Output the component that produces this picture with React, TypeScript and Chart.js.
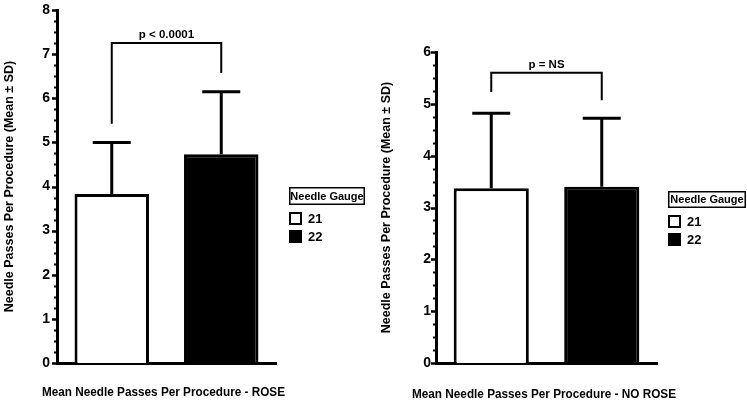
import React, { useEffect, useRef } from 'react';
import { Chart, registerables } from 'chart.js';

Chart.register(...registerables);

// ---- data ----
const gauges = ['21', '22'];
const barColors = ['#ffffff', '#000000'];
const roseMeans = [3.83, 4.73];
const roseSD = [1.17, 1.42];
const noRoseMeans = [3.37, 3.4];
const noRoseSD = [1.45, 1.32];
const roseYMax = 8;
const noRoseYMax = 6;
// bracket: [left leg bottom, bar height, right leg bottom]
const roseBracket = [5.42, 7.25, 6.57];
const noRoseBracket = [5.23, 5.6, 5.07];
const roseP = 'p < 0.0001';
const noRoseP = 'p = NS';
const yTitle = 'Needle Passes Per Procedure (Mean ± SD)';
const roseXTitle = 'Mean Needle Passes Per Procedure - ROSE';
const noRoseXTitle = 'Mean Needle Passes Per Procedure - NO ROSE';
const legendTitle = 'Needle Gauge';
const minorStep = 0.25;

const FONT = '"Liberation Sans", Arial, Helvetica, sans-serif';

type PanelProps = {
  left: number;
  width: number;
  means: number[];
  sds: number[];
  yMax: number;
  bracket: number[];
  pText: string;
  xTitle: string;
  yAxisWidth: number;
  yTitlePad: number;
  tickPad: number;
  padTop: number;
  padRight: number;
  xTitleY: number;
  xTitleDx: number;
  xTitleMaxW: number;
  legendDx: number;
  legendTop: number;
  legendW: number;
  legendH: number;
};

function makePlugin(p: PanelProps) {
  return {
    id: 'annotate',
    afterDraw(chart: any) {
      const ctx = chart.ctx as CanvasRenderingContext2D;
      const y = chart.scales.y;
      const area = chart.chartArea;
      const meta = chart.getDatasetMeta(0);
      ctx.save();
      ctx.strokeStyle = '#000';
      ctx.fillStyle = '#000';
      // ticks (major + minor)
      const n = Math.round(p.yMax / minorStep);
      for (let k = 0; k <= n; k++) {
        const v = k * minorStep;
        const py = Math.round(y.getPixelForValue(v)) + 0.5;
        const major = Math.abs(v - Math.round(v)) < 1e-6;
        ctx.lineWidth = major ? 2.5 : 2;
        ctx.beginPath();
        ctx.moveTo(area.left - (major ? 5 : 3), py);
        ctx.lineTo(area.left, py);
        ctx.stroke();
      }
      // error bars (upper SD only)
      ctx.lineWidth = 3;
      p.means.forEach((m, i) => {
        const bar = meta.data[i];
        const x = bar.x;
        const yTop = y.getPixelForValue(m + p.sds[i]);
        const yBase = y.getPixelForValue(m);
        ctx.beginPath();
        ctx.moveTo(x, yBase);
        ctx.lineTo(x, yTop);
        ctx.moveTo(x - 19, yTop);
        ctx.lineTo(x + 19, yTop);
        ctx.stroke();
      });
      // significance bracket
      const x0 = meta.data[0].x;
      const x1 = meta.data[1].x;
      const yb = y.getPixelForValue(p.bracket[1]);
      ctx.lineWidth = 2;
      ctx.beginPath();
      ctx.moveTo(x0, y.getPixelForValue(p.bracket[0]));
      ctx.lineTo(x0, yb);
      ctx.lineTo(x1, yb);
      ctx.lineTo(x1, y.getPixelForValue(p.bracket[2]));
      ctx.stroke();
      ctx.font = `bold 11.5px ${FONT}`;
      ctx.textAlign = 'center';
      ctx.textBaseline = 'alphabetic';
      ctx.fillText(p.pText, (x0 + x1) / 2, yb - 5);
      // x axis title (slightly condensed, like the original)
      ctx.font = `bold 13.5px ${FONT}`;
      ctx.textBaseline = 'middle';
      ctx.fillText(p.xTitle, (area.left + area.right) / 2 + p.xTitleDx, p.xTitleY, p.xTitleMaxW);
      // legend
      const lx = area.right + p.legendDx;
      const ly = p.legendTop;
      ctx.lineWidth = 1.5;
      ctx.strokeRect(lx + 0.75, ly + 0.75, p.legendW - 1.5, p.legendH - 1.5);
      ctx.font = `bold 11px ${FONT}`;
      ctx.textBaseline = 'middle';
      ctx.fillText(legendTitle, lx + p.legendW / 2, ly + p.legendH / 2 + 0.5);
      ctx.textAlign = 'left';
      ctx.font = `bold 13px ${FONT}`;
      gauges.forEach((g, i) => {
        const sy = ly + p.legendH + 7 + i * 18;
        ctx.fillStyle = barColors[i];
        ctx.fillRect(lx, sy, 13, 13);
        ctx.lineWidth = 2;
        ctx.strokeStyle = '#000';
        ctx.strokeRect(lx + 1, sy + 1, 11, 11);
        ctx.fillStyle = '#000';
        ctx.fillText(g, lx + 19, sy + 7);
      });
      ctx.restore();
    },
  };
}

function Panel(p: PanelProps) {
  const ref = useRef<HTMLCanvasElement>(null);
  useEffect(() => {
    const chart = new Chart(ref.current as HTMLCanvasElement, {
      type: 'bar',
      data: {
        labels: gauges,
        datasets: [
          {
            label: 'Mean',
            data: p.means,
            backgroundColor: barColors,
            borderColor: '#000',
            borderWidth: 3,
            borderSkipped: 'bottom',
            barPercentage: 0.68,
            categoryPercentage: 1,
          },
        ],
      },
      options: {
        animation: false,
        responsive: false,
        devicePixelRatio: 1,
        layout: { padding: { left: 0, top: p.padTop, right: p.padRight, bottom: 0 } },
        plugins: { legend: { display: false }, tooltip: { enabled: false } },
        scales: {
          x: {
            type: 'category',
            grid: { display: false, tickLength: 0 },
            ticks: { display: false },
            border: { display: true, color: '#000', width: 3 },
            title: { display: false },
            afterFit: (s: any) => {
              s.height = 39;
              s.paddingLeft = 0;
              s.paddingRight = 0;
            },
          },
          y: {
            type: 'linear',
            min: 0,
            max: p.yMax,
            grid: { display: false, tickLength: 0 },
            border: { display: true, color: '#000', width: 3 },
            ticks: {
              stepSize: 1,
              color: '#000',
              padding: p.tickPad,
              font: { family: FONT, size: 14, weight: 'bold' },
            },
            title: {
              display: true,
              text: yTitle,
              color: '#000',
              font: { family: FONT, size: 12.5, weight: 'bold' },
              padding: { top: p.yTitlePad, bottom: 0 },
            },
            afterFit: (s: any) => {
              s.width = p.yAxisWidth;
              s.paddingTop = 0;
              s.paddingBottom = 0;
            },
          },
        },
      },
      plugins: [makePlugin(p)],
    } as any);
    return () => chart.destroy();
  }, []);
  return (
    <div style={{ position: 'absolute', left: p.left, top: 0, width: p.width, height: 402 }}>
      <canvas ref={ref} width={p.width} height={402} style={{ width: p.width, height: 402, display: 'block' }} />
    </div>
  );
}

export default function App() {
  return (
    <div style={{ position: 'fixed', left: 0, top: 0, width: 747, height: 402, background: '#fff', overflow: 'hidden' }}>
      <Panel
        left={0}
        width={373}
        means={roseMeans}
        sds={roseSD}
        yMax={roseYMax}
        bracket={roseBracket}
        pText={roseP}
        xTitle={roseXTitle}
        yAxisWidth={57}
        yTitlePad={2.5}
        tickPad={7}
        padTop={10}
        padRight={97}
        xTitleY={392}
        xTitleDx={-3}
        xTitleMaxW={243}
        legendDx={13}
        legendTop={187}
        legendW={76}
        legendH={18}
      />
      <Panel
        left={373}
        width={374}
        means={noRoseMeans}
        sds={noRoseSD}
        yMax={noRoseYMax}
        bracket={noRoseBracket}
        pText={noRoseP}
        xTitle={noRoseXTitle}
        yAxisWidth={63}
        yTitlePad={6.5}
        tickPad={5}
        padTop={52}
        padRight={90}
        xTitleY={394}
        xTitleDx={-2.5}
        xTitleMaxW={264}
        legendDx={11}
        legendTop={191}
        legendW={78}
        legendH={17}
      />
    </div>
  );
}
